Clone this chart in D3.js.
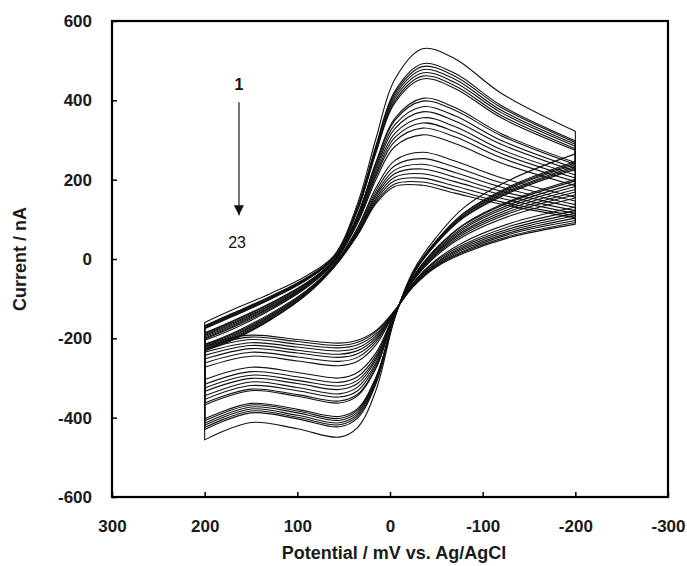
<!DOCTYPE html>
<html>
<head>
<meta charset="utf-8">
<script src="https://cdnjs.cloudflare.com/ajax/libs/d3/7.8.5/d3.min.js"></script>
<style>
  body { margin: 0; background: #fff; }
  .chart text { font-family: Arial, "Liberation Sans", sans-serif; }
</style>
</head>
<body>
<div class="chart"></div>
<script>
// Scan potentials (mV vs. Ag/AgCl): forward 200 -> -200, reverse -200 -> 200
var potentialsFwd = [200, 170, 130, 90, 60, 35, 15, -5, -35, -70, -120, -200];
var potentialsRev = [-200, -130, -80, -50, -25, -5, 15, 35, 55, 100, 150, 200];

// Current (nA) of scans 1..23 on the forward branch
var currentsFwd = [
  [-160, -128, -88, -42, 10, 140, 305, 452, 530, 505, 418, 322],
  [-168, -137, -95, -47, 7, 131, 287, 422, 492, 468, 387, 298],
  [-169, -138, -97, -48, 6, 130, 284, 417, 485, 461, 382, 294],
  [-171, -140, -98, -49, 5, 128, 280, 411, 477, 453, 375, 289],
  [-173, -142, -100, -50, 5, 126, 276, 405, 469, 445, 369, 284],
  [-174, -143, -101, -52, 4, 124, 272, 398, 461, 437, 362, 278],
  [-176, -145, -103, -53, 3, 122, 269, 393, 454, 430, 356, 274],
  [-186, -156, -112, -60, -1, 111, 245, 354, 405, 382, 316, 243],
  [-188, -158, -114, -60, -2, 109, 242, 349, 398, 375, 311, 238],
  [-191, -161, -117, -62, -3, 106, 235, 338, 384, 361, 299, 229],
  [-193, -164, -119, -64, -4, 103, 229, 328, 371, 348, 289, 221],
  [-196, -167, -122, -66, -5, 100, 222, 316, 356, 334, 276, 212],
  [-199, -170, -124, -68, -6, 97, 215, 306, 343, 321, 266, 204],
  [-202, -173, -127, -70, -7, 94, 209, 296, 330, 308, 255, 195],
  [-205, -177, -130, -72, -9, 90, 201, 283, 313, 291, 242, 185],
  [-215, -187, -139, -79, -13, 79, 180, 248, 269, 247, 205, 156],
  [-218, -190, -142, -81, -14, 76, 172, 235, 253, 232, 192, 146],
  [-221, -193, -145, -83, -15, 72, 165, 224, 239, 218, 181, 137],
  [-224, -196, -147, -84, -16, 69, 160, 215, 227, 206, 171, 130],
  [-226, -199, -149, -86, -17, 67, 154, 206, 215, 195, 162, 122],
  [-228, -201, -152, -88, -18, 64, 149, 197, 204, 184, 153, 115],
  [-230, -203, -154, -89, -19, 62, 144, 189, 194, 174, 144, 109],
  [-232, -205, -155, -90, -20, 60, 140, 183, 186, 166, 138, 104]
];

// Current (nA) of scans 1..23 on the reverse branch
var currentsRev = [
  [265, 200, 130, 55, -30, -150, -330, -425, -449, -428, -412, -456],
  [246, 184, 117, 47, -34, -148, -314, -401, -423, -403, -388, -430],
  [242, 181, 115, 45, -35, -147, -311, -396, -418, -399, -383, -425],
  [238, 178, 112, 44, -36, -147, -307, -391, -413, -394, -378, -419],
  [234, 174, 110, 42, -37, -146, -304, -386, -407, -388, -373, -414],
  [230, 171, 107, 40, -38, -146, -300, -381, -402, -383, -368, -408],
  [226, 168, 105, 39, -39, -146, -297, -377, -397, -379, -364, -403],
  [201, 147, 88, 28, -45, -143, -275, -345, -363, -346, -332, -368],
  [197, 144, 86, 26, -45, -142, -272, -341, -358, -342, -328, -363],
  [190, 138, 81, 23, -47, -142, -266, -332, -348, -332, -319, -354],
  [183, 133, 77, 20, -48, -141, -261, -323, -340, -324, -310, -345],
  [175, 127, 72, 17, -50, -140, -254, -314, -329, -314, -301, -334],
  [169, 121, 68, 14, -52, -139, -249, -306, -320, -306, -293, -325],
  [162, 116, 63, 11, -53, -138, -243, -297, -311, -297, -284, -316],
  [154, 109, 58, 8, -55, -137, -236, -286, -300, -286, -273, -304],
  [131, 90, 43, -2, -60, -135, -216, -258, -269, -257, -245, -273],
  [122, 83, 37, -5, -62, -134, -209, -248, -258, -247, -235, -262],
  [115, 77, 33, -9, -64, -133, -203, -239, -248, -237, -226, -252],
  [109, 72, 29, -11, -65, -132, -198, -231, -240, -230, -218, -243],
  [103, 67, 25, -14, -67, -132, -193, -224, -232, -222, -211, -235],
  [97, 63, 21, -16, -68, -131, -188, -216, -224, -215, -203, -228],
  [92, 58, 18, -18, -69, -130, -183, -210, -218, -208, -197, -220],
  [88, 55, 15, -20, -70, -130, -180, -205, -212, -203, -192, -215]
];

var xTicks = [300, 200, 100, 0, -100, -200, -300];
var yTicks = [-600, -400, -200, 0, 200, 400, 600];
var scanLabels = ["1", "23"];

var svgWidth = 687;
var svgHeight = 566;
var margin = { top: 21, right: 19, bottom: 69, left: 112 };
var width = svgWidth - margin.left - margin.right;
var height = svgHeight - margin.top - margin.bottom;

var svg = d3.select(".chart")
  .append("svg")
  .attr("width", svgWidth)
  .attr("height", svgHeight)
  .append("g")
  .attr("transform", "translate(" + margin.left + "," + margin.top + ")");

// Scales (potential axis runs from positive to negative)
var xScale = d3.scaleLinear().domain([300, -300]).range([0, width]);
var yScale = d3.scaleLinear().domain([-600, 600]).range([height, 0]);

var bottomAxis = d3.axisBottom(xScale)
  .tickValues(xTicks)
  .tickSizeInner(-5)
  .tickSizeOuter(0)
  .tickPadding(23)
  .tickFormat(d3.format("d"));
var leftAxis = d3.axisLeft(yScale)
  .tickValues(yTicks)
  .tickSizeInner(-5)
  .tickSizeOuter(0)
  .tickPadding(20)
  .tickFormat(d3.format("d"));

var xAxisG = svg.append("g")
  .attr("transform", "translate(0," + height + ")")
  .call(bottomAxis);
var yAxisG = svg.append("g").call(leftAxis);

[xAxisG, yAxisG].forEach(function(g) {
  g.select(".domain").remove();
  g.selectAll(".tick line").attr("stroke", "#000").attr("stroke-width", 1.5);
  g.selectAll(".tick text")
    .attr("fill", "#1a1a1a")
    .attr("font-size", "17px")
    .attr("font-weight", "bold")
    // plain hyphen as the minus sign
    .text(function(d) { return String(d); });
});

// Voltammograms
var line = d3.line()
  .x(function(d) { return xScale(d[0]); })
  .y(function(d) { return yScale(d[1]); })
  .curve(d3.curveCatmullRom.alpha(0.5));

var scans = currentsFwd.map(function(fwd, i) {
  return {
    fwd: potentialsFwd.map(function(e, j) { return [e, fwd[j]]; }),
    rev: potentialsRev.map(function(e, j) { return [e, currentsRev[i][j]]; })
  };
});

svg.append("g")
  .selectAll("path")
  .data(scans)
  .enter()
  .append("path")
  .attr("d", function(s) {
    return line(s.fwd) + line(s.rev).replace(/^M/, "L") + "Z";
  })
  .attr("fill", "none")
  .attr("stroke", "#111")
  .attr("stroke-width", 1.1)
  .attr("stroke-linejoin", "round");

// Plot frame
svg.append("rect")
  .attr("x", 0)
  .attr("y", 0)
  .attr("width", width)
  .attr("height", height)
  .attr("fill", "none")
  .attr("stroke", "#000")
  .attr("stroke-width", 2.2);

// Arrow showing scan order 1 -> 23
var defs = d3.select("svg").append("defs");
defs.append("marker")
  .attr("id", "head")
  .attr("viewBox", "0 0 10 10")
  .attr("refX", 10)
  .attr("refY", 5)
  .attr("markerWidth", 11)
  .attr("markerHeight", 10)
  .attr("markerUnits", "userSpaceOnUse")
  .attr("orient", "auto")
  .append("path")
  .attr("d", "M0,0L10,5L0,10Z")
  .attr("fill", "#111");

svg.append("line")
  .attr("x1", xScale(163))
  .attr("x2", xScale(163))
  .attr("y1", yScale(395))
  .attr("y2", yScale(110))
  .attr("stroke", "#444")
  .attr("stroke-width", 1.5)
  .attr("marker-end", "url(#head)");

svg.append("text")
  .attr("x", xScale(163))
  .attr("y", yScale(440))
  .attr("dy", "0.35em")
  .attr("text-anchor", "middle")
  .attr("font-size", "16px")
  .attr("font-weight", "bold")
  .attr("fill", "#111")
  .text(scanLabels[0]);

svg.append("text")
  .attr("x", xScale(165))
  .attr("y", yScale(43))
  .attr("dy", "0.35em")
  .attr("text-anchor", "middle")
  .attr("font-size", "16px")
  .attr("fill", "#111")
  .text(scanLabels[1]);

// Axis titles
svg.append("text")
  .attr("x", width / 2 + 4)
  .attr("y", height + 62)
  .attr("text-anchor", "middle")
  .attr("font-size", "18px")
  .attr("font-weight", "bold")
  .attr("fill", "#1a1a1a")
  .text("Potential / mV vs. Ag/AgCl");

svg.append("text")
  .attr("transform", "rotate(-90)")
  .attr("x", -height / 2)
  .attr("y", -margin.left + 26)
  .attr("text-anchor", "middle")
  .attr("font-size", "18px")
  .attr("font-weight", "bold")
  .attr("fill", "#1a1a1a")
  .text("Current / nA");
</script>
</body>
</html>
